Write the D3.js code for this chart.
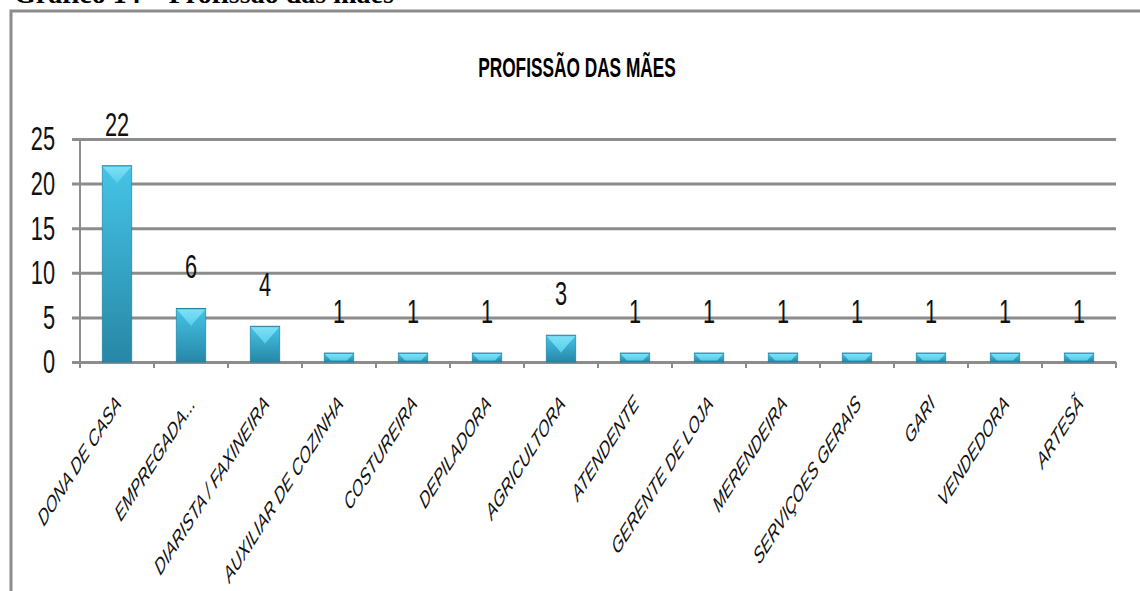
<!DOCTYPE html>
<html>
<head>
<meta charset="utf-8">
<title>Profissão das mães</title>
<script src="https://d3js.org/d3.v7.min.js"></script>
<style>
  body { margin: 0; background: #fff; }
  svg { display: block; }
  .ax text { font-family: "Liberation Sans", Arial, sans-serif; fill: #111; }
</style>
</head>
<body>
<svg id="chart" width="1140" height="591"></svg>
<script>
// data
var categories = ["DONA DE CASA", "EMPREGADA...", "DIARISTA / FAXINEIRA", "AUXILIAR DE COZINHA",
                  "COSTUREIRA", "DEPILADORA", "AGRICULTORA", "ATENDENTE", "GERENTE DE LOJA",
                  "MERENDEIRA", "SERVIÇOES GERAIS", "GARI", "VENDEDORA", "ARTESÃ"];
var values = [22, 6, 4, 1, 1, 1, 3, 1, 1, 1, 1, 1, 1, 1];
var yTicks = [0, 5, 10, 15, 20, 25];
var chartTitle = "PROFISSÃO DAS MÃES";
var caption = "Gráfico 14 – Profissão das mães";

// the picture is squeezed sideways, so the plot is drawn wide and scaled
var SX = 0.64;
var plotLeft = 80, plotRight = 1116, plotTop = 139, plotBottom = 362;

var svg = d3.select("#chart");
svg.append("rect").attr("width", 1140).attr("height", 591).attr("fill", "#fff");

// caption cut off at the top of the page
svg.append("text")
   .attr("x", 14).attr("y", 3)
   .style("font-family", "'Liberation Serif', 'Times New Roman', serif")
   .style("font-weight", "bold").style("font-size", "28px")
   .text(caption);

// frame
svg.append("path")
   .attr("d", "M11,591V11H1140")
   .attr("fill", "none").attr("stroke", "#8c8c8c").attr("stroke-width", 3);

var defs = svg.append("defs");
var grad = defs.append("linearGradient").attr("id", "barGrad")
  .attr("x1", 0).attr("y1", 0).attr("x2", 0).attr("y2", 1);
grad.append("stop").attr("offset", "0%").attr("stop-color", "#45c4e7");
grad.append("stop").attr("offset", "100%").attr("stop-color", "#2787a6");
var grad2 = defs.append("linearGradient").attr("id", "bevelGrad")
  .attr("x1", 0).attr("y1", 0).attr("x2", 0).attr("y2", 1);
grad2.append("stop").attr("offset", "0%").attr("stop-color", "#7ee0f7");
grad2.append("stop").attr("offset", "100%").attr("stop-color", "#55cdea");

var g = svg.append("g").attr("transform", "scale(" + SX + ",1)");

var x = d3.scaleBand()
  .domain(categories)
  .range([plotLeft / SX, plotRight / SX])
  .paddingInner(0.6)
  .paddingOuter(0.3);

var y = d3.scaleLinear()
  .domain([0, 25])
  .range([plotBottom, plotTop]);

// gridlines + y labels
var yAxis = d3.axisLeft(y)
  .tickValues(yTicks)
  .tickSize(-(plotRight - 72) / SX)
  .tickPadding(17 / SX)
  .tickFormat(function(d) { return d; });

var gy = g.append("g").attr("class", "ax")
  .attr("transform", "translate(" + (72 / SX) + ",0)")
  .call(yAxis);
gy.select(".domain").remove();
gy.selectAll("line").attr("stroke", "#8c8c8c").attr("stroke-width", 3);
gy.selectAll("text").style("font-size", "34px");

// vertical axis line
g.append("line")
  .attr("x1", plotLeft / SX).attr("x2", plotLeft / SX)
  .attr("y1", y(25)).attr("y2", y(0) + 6)
  .attr("stroke", "#8c8c8c").attr("stroke-width", 2 / SX);

// boundary ticks on x axis
var off = (x.step() - x.bandwidth()) / 2;
var bounds = categories.map(function(c) { return x(c) - off; });
bounds.push(x.range()[1]);
g.append("g").selectAll("line").data(bounds).enter().append("line")
  .attr("x1", function(d) { return d; }).attr("x2", function(d) { return d; })
  .attr("y1", y(0)).attr("y2", y(0) + 6)
  .attr("stroke", "#8c8c8c").attr("stroke-width", 2 / SX);

// x labels
var xAxis = d3.axisBottom(x).tickSize(0).tickPadding(0);
var gx = g.append("g").attr("class", "ax")
  .attr("transform", "translate(0," + plotBottom + ")")
  .call(xAxis);
gx.select(".domain").remove();
gx.selectAll("text")
  .attr("x", 0).attr("y", 0).attr("dy", 0)
  .attr("text-anchor", "end")
  .attr("transform", "translate(" + (5 / SX) + ",43) rotate(-45)")
  .style("font-size", "23px")
  .style("font-style", "italic");

// bars
var bw = x.bandwidth();
var bars = g.append("g").selectAll("g").data(values).enter().append("g");

bars.append("rect")
  .attr("x", function(d, i) { return x(categories[i]); })
  .attr("y", function(d) { return y(d); })
  .attr("width", bw)
  .attr("height", function(d) { return y(0) - y(d); })
  .attr("fill", "url(#barGrad)")
  .attr("stroke", "#23809e")
  .attr("stroke-width", 1);

bars.append("polygon")
  .attr("fill", "url(#bevelGrad)")
  .attr("points", function(d, i) {
    var x0 = x(categories[i]), x1 = x0 + bw, y0 = y(d), h = y(0) - y(d);
    var b = 18, bb = Math.min(b, h - 1.5), dd = (bw / 2) * (bb / b);
    return [[x0 + 1, y0 + 1], [x1 - 1, y0 + 1], [x1 - 1 - dd, y0 + bb], [x0 + 1 + dd, y0 + bb]].join(" ");
  });

// value labels
g.append("g").attr("class", "ax").selectAll("text").data(values).enter().append("text")
  .attr("x", function(d, i) { return x(categories[i]) + bw / 2; })
  .attr("y", function(d) { return y(d) - 30; })
  .attr("text-anchor", "middle")
  .style("font-size", "34px")
  .text(function(d) { return d; });

// title
g.append("text")
  .attr("x", 577 / SX).attr("y", 77)
  .attr("text-anchor", "middle")
  .style("font-family", "'Liberation Sans', Arial, sans-serif")
  .style("font-weight", "bold").style("font-size", "27px")
  .text(chartTitle);
</script>
</body>
</html>
